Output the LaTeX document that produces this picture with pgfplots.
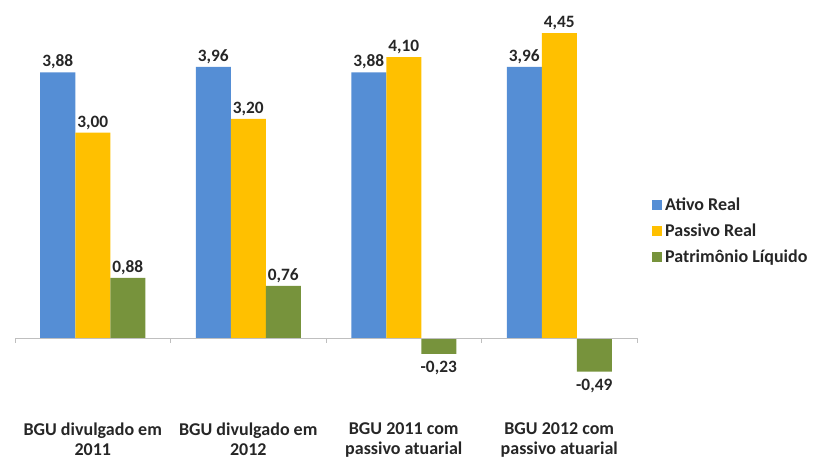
\documentclass[border=0pt]{standalone}
\usepackage{pgfplots}
\pgfplotsset{compat=1.18}
\usepackage{fontspec}
\setmainfont{Carlito}
\definecolor{cblue}{HTML}{558ED5}
\definecolor{cyellow}{HTML}{FFC000}
\definecolor{cgreen}{HTML}{77933C}
\newcommand\lf{\fontsize{13}{15}\selectfont\bfseries}
\newcommand\cf{\fontsize{13.5}{15}\selectfont\bfseries}
\begin{document}
\begin{tikzpicture}
\useasboundingbox (0,0) rectangle (610.5pt,345.75pt);
\begin{axis}[
  at={(11.25pt,61.4pt)}, anchor=south west,
  scale only axis,
  width=466.5pt, height=267.15pt,
  xmin=-0.5, xmax=3.5, ymin=-0.6, ymax=4.6,
  ybar=0pt, bar width=26.25pt,
  axis line style={draw=none},
  ytick=\empty,
  xtick={0,1,2,3},
  xticklabels={{BGU divulgado em\\2011},{BGU divulgado em\\2012},{BGU 2011 com\\passivo atuarial},{BGU 2012 com\\passivo atuarial}},
  major tick length=0pt,
  xticklabel style={align=center, font=\cf, yshift=-29pt, text=black!85},
  point meta=explicit symbolic,
  nodes near coords,
  visualization depends on={rawy \as \rawy},
  every node near coord/.append style={font=\lf, text=black!85, inner sep=2pt,
     anchor=\ifdim\rawy pt<0pt north\else south\fi,
     yshift=\ifdim\rawy pt<0pt -3.5pt\else 0pt\fi},
  legend style={draw=none, at={(1.018,0.415)}, anchor=west, font=\cf, text=black!85, row sep=4.5pt, cells={anchor=west}},
  legend image code/.code={\fill[#1] (0pt,-3.75pt) rectangle (7.5pt,3.75pt);},
  clip=false,
]
\addplot[fill=cblue, draw=none] coordinates {(0,3.88) [3,88] (1,3.96) [3,96] (2,3.88) [3,88] (3,3.96) [3,96]};
\addlegendentry{Ativo Real}
\addplot[fill=cyellow, draw=none] coordinates {(0,3.00) [3,00] (1,3.20) [3,20] (2,4.10) [4,10] (3,4.45) [4,45]};
\addlegendentry{Passivo Real}
\addplot[fill=cgreen, draw=none] coordinates {(0,0.88) [0,88] (1,0.76) [0,76] (2,-0.23) [-0,23] (3,-0.49) [-0,49]};
\addlegendentry{Patrimônio Líquido}
\draw[black!25] (axis cs:-0.5,0) -- (axis cs:3.5,0);
\draw[black!25] (axis cs:-0.5,0) -- ++(0pt,-4pt);
\draw[black!25] (axis cs:0.5,0) -- ++(0pt,-4pt);
\draw[black!25] (axis cs:1.5,0) -- ++(0pt,-4pt);
\draw[black!25] (axis cs:2.5,0) -- ++(0pt,-4pt);
\draw[black!25] (axis cs:3.5,0) -- ++(0pt,-4pt);
\end{axis}
\end{tikzpicture}
\end{document}
